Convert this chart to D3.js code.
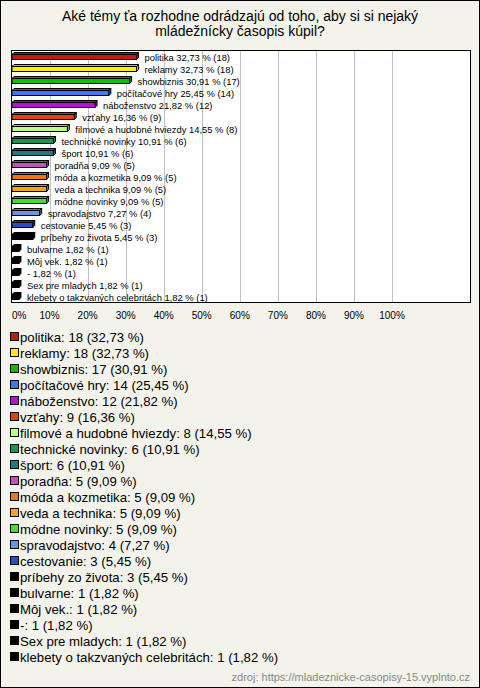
<!DOCTYPE html>
<html><head><meta charset="utf-8">
<script src="https://cdn.jsdelivr.net/npm/d3@7"></script>
<style>html,body{margin:0;padding:0;background:#f3f3eb;}svg{display:block;}</style>
</head><body><svg id="c" width="480" height="688"></svg>
<script>
const categories = ["politika","reklamy","showbiznis","počítačové hry","náboženstvo","vzťahy","filmové a hudobné hviezdy","technické novinky","šport","poradňa","móda a kozmetika","veda a technika","módne novinky","spravodajstvo","cestovanie","príbehy zo života","bulvarne","Môj vek.","-","Sex pre mladych","klebety o takzvaných celebritách"];
const counts = [18,18,17,14,12,9,8,6,6,5,5,5,5,4,3,3,1,1,1,1,1];
const percents = ["32,73","32,73","30,91","25,45","21,82","16,36","14,55","10,91","10,91","9,09","9,09","9,09","9,09","7,27","5,45","5,45","1,82","1,82","1,82","1,82","1,82"];
const percentValues = [32.73,32.73,30.91,25.45,21.82,16.36,14.55,10.91,10.91,9.09,9.09,9.09,9.09,7.27,5.45,5.45,1.82,1.82,1.82,1.82,1.82];
const colors = ["#c8180c","#ffee00","#11bb11","#4477ee","#bb11cc","#dd4411","#bbff88","#119955","#227788","#bb55bb","#ee7711","#eeaa00","#44dd33","#6699dd","#2255bb","#000000","#000000","#000000","#000000","#000000","#000000"];
const tickValues = [0,10,20,30,40,50,60,70,80,90,100];
const tickLabels = ["0%","10%","20%","30%","40%","50%","60%","70%","80%","90%","100%"];
const title = ["Aké témy ťa rozhodne odrádzajú od toho, aby si si nejaký","mládežnícky časopis kúpil?"];
const source = "zdroj: https://mladeznicke-casopisy-15.vyplnto.cz";

const svg = d3.select("#c");
const F = "'Liberation Sans', Arial, sans-serif";
svg.append("rect").attr("x",0.5).attr("y",0.5).attr("width",479).attr("height",687)
  .attr("fill","#f3f3eb").attr("stroke","#000");

svg.selectAll("text.title").data(title).join("text").attr("class","title")
  .attr("x",240).attr("y",(d,i)=>21+i*15).attr("text-anchor","middle")
  .attr("font-family",F).attr("font-size",14).attr("fill","#000").text(d=>d);

const plot = {x0:11.5, x1:470.5, y0:50.5, y1:302.5};
const x = d3.scaleLinear().domain([0,100]).range([11.5,392]);
const y = d3.scaleBand().domain(categories).range([51, 303]);

svg.append("rect").attr("x",plot.x0).attr("y",plot.y0).attr("width",plot.x1-plot.x0).attr("height",plot.y1-plot.y0)
  .attr("fill","#fff").attr("stroke","none");

svg.append("g").selectAll("line").data(tickValues.slice(1)).join("line")
  .attr("x1",d=>Math.round(x(d))+0.5).attr("x2",d=>Math.round(x(d))+0.5)
  .attr("y1",plot.y0).attr("y2",plot.y1).attr("stroke","#c0c0c0").attr("stroke-width",1);

const dep = 2;
const bars = svg.append("g").selectAll("g").data(categories).join("g");
bars.each(function(c,i){
  const g = d3.select(this);
  const cy = y(c) + y.bandwidth()/2;
  const x0 = x(0)+0.5, w = x(percentValues[i]) - x(0);
  const top = Math.round(cy) - 2.5, h = 5;
  const col = colors[i];
  const dark = d3.color(col).darker(0.6).formatHex();
  g.append("polygon").attr("points",[[x0,top],[x0+dep,top-dep],[x0+w+dep,top-dep],[x0+w,top]].join(" "))
    .attr("fill",dark).attr("stroke","#000").attr("stroke-width",1);
  g.append("polygon").attr("points",[[x0+w,top],[x0+w+dep,top-dep],[x0+w+dep,top+h-dep],[x0+w,top+h]].join(" "))
    .attr("fill",dark).attr("stroke","#000").attr("stroke-width",1);
  g.append("rect").attr("x",x0).attr("y",top).attr("width",w).attr("height",h)
    .attr("fill",col).attr("stroke","#000").attr("stroke-width",1);
  g.append("text").attr("x",x0+w+dep+6).attr("y",cy+3.5)
    .attr("font-family",F).attr("font-size",9.4).attr("fill","#000")
    .text(`${c} ${percents[i]} % (${counts[i]})`);
});

svg.append("rect").attr("x",plot.x0).attr("y",plot.y0).attr("width",plot.x1-plot.x0).attr("height",plot.y1-plot.y0)
  .attr("fill","none").attr("stroke","#000").attr("stroke-width",1);

svg.append("g").selectAll("text").data(tickValues).join("text")
  .attr("x",(d,i)=> i===0 ? x(d)+0.5 : x(d)).attr("y",319)
  .attr("text-anchor",(d,i)=> i===0 ? "start" : "middle")
  .attr("font-family",F).attr("font-size",10).attr("fill","#000")
  .text((d,i)=>tickLabels[i]);

const lg = svg.append("g").selectAll("g").data(categories).join("g")
  .attr("transform",(d,i)=>`translate(0,${337+i*16})`);
lg.append("rect").attr("x",10.5).attr("y",-4.5).attr("width",8).attr("height",8)
  .attr("fill",(d,i)=>colors[i]).attr("stroke","#000").attr("stroke-width",1);
lg.append("text").attr("x",20).attr("y",4.5)
  .attr("font-family",F).attr("font-size",13.2).attr("fill","#000")
  .text((d,i)=>`${d}: ${counts[i]} (${percents[i]} %)`);

svg.append("text").attr("x",470).attr("y",681).attr("text-anchor","end")
  .attr("font-family",F).attr("font-size",11).attr("fill","#888").text(source);
</script></body></html>
